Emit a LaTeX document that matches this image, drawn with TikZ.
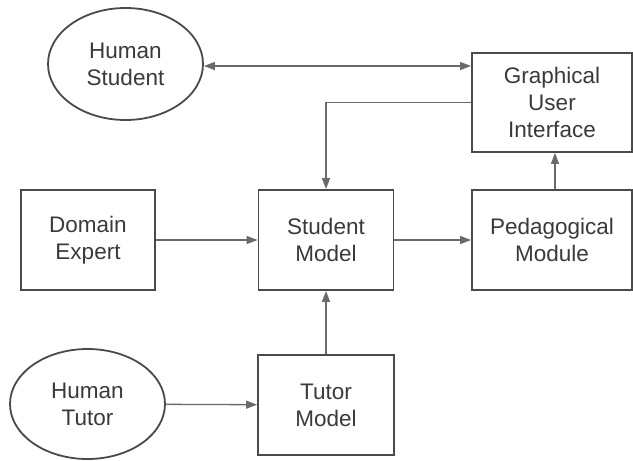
\documentclass[tikz,border=0pt]{standalone}
\usepackage{fontspec}
\setmainfont{Liberation Sans}
\usetikzlibrary{shapes.geometric,arrows.meta}
\definecolor{boxline}{HTML}{4A4A4A}
\definecolor{conn}{HTML}{6A6A6A}
\definecolor{txt}{HTML}{3A3A3A}
\tikzset{
  base/.style={draw=boxline, line width=1.8pt, text=txt, align=center,
    font=\fontsize{22.5}{27}\selectfont, inner sep=0pt},
  box/.style={base, rectangle},
  oval/.style={base, ellipse},
  conn/.style={draw=conn, line width=1.3pt, -{Triangle[length=11pt,width=8pt]}},
  dconn/.style={draw=conn, line width=1.3pt, {Triangle[length=11pt,width=8pt]}-{Triangle[length=11pt,width=8pt]}}
}
\begin{document}
\begin{tikzpicture}[x=1pt,y=-1pt]
\useasboundingbox (0,0) rectangle (633,461);
\fill[white] (0,0) rectangle (633,461);
\node[oval, minimum width=155pt, minimum height=112pt] (hs) at (125.5,64) {Human\\Student};
\node[box, minimum width=160pt, minimum height=99pt] (gui) at (552,102.5) {Graphical\\User\\Interface};
\node[box, minimum width=134pt, minimum height=100pt] (de) at (88,240) {Domain\\Expert};
\node[box, minimum width=135pt, minimum height=100pt] (sm) at (326,240) {Student\\Model};
\node[box, minimum width=160pt, minimum height=100pt] (pm) at (552,240) {Pedagogical\\Module};
\node[box, minimum width=136pt, minimum height=100pt] (tm) at (326,405) {Tutor\\Model};
\node[oval, minimum width=155pt, minimum height=110pt] (ht) at (87.5,404) {Human\\Tutor};
\draw[dconn] ([yshift=-2pt]hs.east) -- ([yshift=-2pt]hs.east -| gui.west);
\draw[conn] (gui.west) -| (sm.north);
\draw[conn] (de) -- (sm);
\draw[conn] (sm) -- (pm);
\draw[conn] ([xshift=3pt]pm.north) -- ([xshift=3pt]gui.south);
\draw[conn] (tm) -- (sm);
\draw[conn] (ht) -- (tm);
\end{tikzpicture}
\end{document}
